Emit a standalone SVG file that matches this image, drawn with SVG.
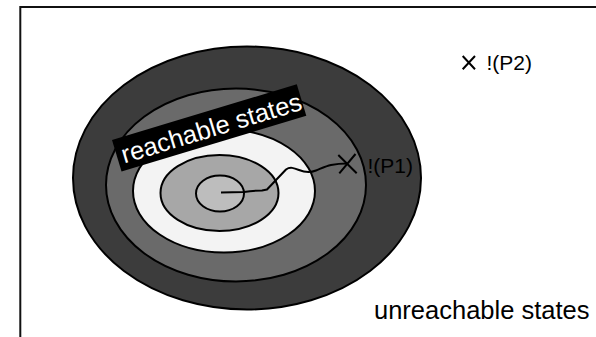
<svg xmlns="http://www.w3.org/2000/svg" width="596" height="337" viewBox="0 0 596 337">
  <style>
    .ring { stroke: #000; stroke-width: 2; }
    .lbl { font-family: "Liberation Sans", Arial, sans-serif; fill: #000; }
    .cross { stroke: #000; stroke-width: 2; fill: none; }
  </style>
  <rect width="596" height="337" fill="#fff"/>
  <!-- state space frame (runs off the right and bottom edges) -->
  <rect id="frame" x="20.3" y="7" width="640" height="400" fill="none" stroke="#111" stroke-width="2"/>

  <!-- nested reachability rings -->
  <g id="rings">
    <ellipse class="ring" cx="247" cy="178" rx="174" ry="131.5" fill="#3c3c3c"/>
    <ellipse class="ring" cx="236" cy="185" rx="130" ry="96.5" fill="#6a6a6a"/>
    <ellipse class="ring" cx="224" cy="191" rx="91" ry="61.5" fill="#f3f3f3"/>
    <ellipse class="ring" cx="219.5" cy="193" rx="59" ry="38" fill="#a7a7a7"/>
    <ellipse class="ring" cx="220" cy="193.5" rx="24" ry="18" fill="#bdbdbd"/>
  </g>

  <!-- execution trace from the initial state to the violation -->
  <g id="connectors">
    <path d="M221,192.5 L244,192 C250,191 255,190.5 262,190.5 L267,189.5 L286,169.5 C290,166.5 294,168 299,170 C304,172 311,172.5 316,170.5 C321,168.5 326,166 331,165 C336,164 341,163.5 347,163.5" fill="none" stroke="#000" stroke-width="2" stroke-linejoin="round"/>
  </g>

  <g id="reachable-label">
    <g transform="translate(112,140) rotate(-16.8)">
      <rect x="0" y="0" width="193" height="33" fill="#000"/>
      <text class="lbl" x="5" y="26" font-size="25.5" fill="#fff" style="fill:#fff">reachable states</text>
    </g>
  </g>

  <g id="violation-p1">
    <path class="cross" d="M338.3,155 L356.7,173.3 M339.3,173.3 L355.5,154"/>
    <text class="lbl" x="367.5" y="173" font-size="21">!(P1)</text>
  </g>

  <g id="violation-p2">
    <path class="cross" d="M462.7,56 L475,69.3 M462.7,69.3 L475,56"/>
    <text class="lbl" x="486.5" y="69.5" font-size="21">!(P2)</text>
  </g>

  <g id="unreachable-label">
    <text class="lbl" x="374" y="318.5" font-size="25.5">unreachable states</text>
  </g>
</svg>
